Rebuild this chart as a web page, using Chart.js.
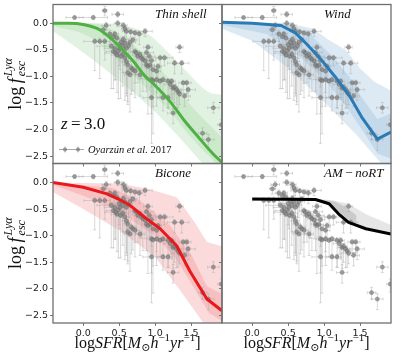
<!DOCTYPE html>
<html>
<head>
<meta charset="utf-8">
<script src="https://cdn.jsdelivr.net/npm/chart.js@4.4.1/dist/chart.umd.min.js"></script>
<style>
html, body { margin: 0; padding: 0; background: #fff; }
#wrap { position: relative; width: 407px; height: 360px; }
#wrap canvas { position: absolute; left: 0; top: 0; }
</style>
</head>
<body>
<div id="wrap">
  <canvas id="c0" width="407" height="360"></canvas>
  <canvas id="c1" width="407" height="360"></canvas>
  <canvas id="c2" width="407" height="360"></canvas>
  <canvas id="c3" width="407" height="360"></canvas>
</div>
<script>
// axis ticks
const xTicks = [0.0, 0.5, 1.0, 1.5];
const yTicks = [-2.5, -2.0, -1.5, -1.0, -0.5, 0.0];

// Oyarzun et al. 2017 observations (same in every panel)
const obsX = [-0.12, 0.14, 0.30, 0.48, 0.48, 0.32, 0.28, 0.16, 0.23, 0.30,
  0.56, 0.58, 0.60, 0.66, 0.72, 0.78, 0.86, 0.37, 0.42, 0.44,
  0.47, 0.39, 0.42, 0.45, 0.49, 0.51, 0.55, 0.58, 0.60, 0.63,
  0.65, 0.69, 0.72, 0.74, 0.76, 0.79, 0.81, 0.83, 0.86, 0.88,
  0.90, 0.93, 0.97, 1.02, 1.04, 1.07, 1.13, 1.27, 1.37, 1.34,
  0.58, 0.60, 0.62, 0.67, 0.69, 0.72, 0.65, 0.62, 0.79, 0.95,
  0.97, 1.02, 1.07, 1.11, 1.18, 1.21, 1.23, 1.25, 1.27, 1.30,
  1.32, 1.34, 1.39, 1.44, 1.46, 1.41, 0.95, 1.11, 1.18, 1.25,
  1.81, 1.92, 1.66, 1.74, 0.44, 0.47, 0.52, 0.55, 0.50, 0.53,
  0.56, 0.88, 0.92, 0.95, 0.90];
const obsY = [0.11, 0.11, 0.24, 0.17, 0.00, -0.04, -0.12, -0.34, -0.34, -0.34,
  -0.04, -0.10, -0.15, -0.16, -0.18, -0.20, -0.15, -0.20, -0.25, -0.20,
  -0.28, -0.43, -0.53, -0.56, -0.52, -0.47, -0.43, -0.37, -0.47, -0.42,
  -0.36, -0.31, -0.53, -0.56, -0.62, -0.59, -0.65, -0.68, -0.71, -0.78,
  -0.81, -0.79, -0.87, -0.90, -0.81, -0.65, -0.65, -0.75, -0.75, -0.45,
  -0.65, -0.72, -0.78, -0.84, -0.87, -0.90, -0.97, -0.93, -0.97, -1.06,
  -1.08, -1.06, -1.09, -1.06, -1.09, -1.15, -1.09, -1.22, -1.20, -1.25,
  -1.29, -1.33, -1.12, -1.12, -1.25, -1.37, -1.40, -1.40, -1.40, -1.69,
  -1.59, -1.91, -2.07, -2.19, -0.47, -0.60, -0.62, -0.58, -0.40, -0.35,
  -0.30, -0.55, -0.62, -0.70, -0.45];
const obsXerr = [0.12, 0.20, 0.03, 0.08, 0.05, 0.06, 0.04, 0.15, 0.06, 0.08,
  0.05, 0.05, 0.06, 0.05, 0.06, 0.05, 0.10, 0.05, 0.06, 0.05,
  0.08, 0.20, 0.10, 0.15, 0.06, 0.08, 0.06, 0.05, 0.06, 0.05,
  0.08, 0.06, 0.06, 0.06, 0.05, 0.06, 0.06, 0.06, 0.05, 0.06,
  0.05, 0.06, 0.05, 0.06, 0.05, 0.10, 0.12, 0.10, 0.10, 0.05,
  0.05, 0.06, 0.05, 0.06, 0.05, 0.06, 0.08, 0.06, 0.06, 0.06,
  0.05, 0.06, 0.08, 0.06, 0.06, 0.08, 0.05, 0.06, 0.05, 0.06,
  0.05, 0.10, 0.06, 0.06, 0.10, 0.08, 0.12, 0.08, 0.06, 0.08,
  0.08, 0.05, 0.06, 0.08, 0.15, 0.08, 0.06, 0.08, 0.10, 0.06,
  0.06, 0.10, 0.08, 0.06, 0.06];
const obsYlo = [0.03, 0.04, 0.10, 0.05, 0.06, 0.08, 0.10, 0.55, 0.70, 0.35,
  0.10, 0.15, 0.20, 0.12, 0.15, 0.20, 0.10, 0.20, 0.25, 0.20,
  0.30, 0.80, 0.70, 0.50, 0.90, 0.40, 0.50, 0.40, 0.90, 0.45,
  0.30, 0.30, 0.60, 0.40, 0.50, 0.45, 0.40, 0.60, 0.35, 0.50,
  0.90, 0.60, 0.70, 0.40, 0.30, 0.20, 0.15, 0.20, 0.20, 0.10,
  0.80, 0.60, 0.70, 0.50, 0.40, 0.50, 0.70, 0.60, 0.40, 1.20,
  1.00, 0.50, 0.30, 0.30, 0.50, 0.20, 0.35, 0.40, 0.30, 0.35,
  0.30, 0.20, 0.20, 0.20, 0.20, 0.20, 0.30, 0.25, 0.20, 0.20,
  0.10, 0.15, 0.12, 0.20, 0.60, 0.70, 0.80, 0.60, 0.40, 0.30,
  0.30, 0.30, 0.40, 0.50, 0.25];
const obsYhi = [0.03, 0.04, 0.08, 0.05, 0.05, 0.06, 0.06, 0.05, 0.06, 0.06,
  0.05, 0.05, 0.06, 0.05, 0.05, 0.05, 0.05, 0.06, 0.05, 0.05,
  0.05, 0.06, 0.06, 0.06, 0.06, 0.05, 0.05, 0.05, 0.05, 0.05,
  0.05, 0.05, 0.05, 0.05, 0.05, 0.05, 0.05, 0.05, 0.05, 0.05,
  0.05, 0.05, 0.05, 0.05, 0.05, 0.05, 0.05, 0.05, 0.05, 0.05,
  0.05, 0.05, 0.05, 0.05, 0.05, 0.05, 0.05, 0.05, 0.05, 0.05,
  0.05, 0.05, 0.05, 0.05, 0.05, 0.05, 0.05, 0.05, 0.05, 0.05,
  0.05, 0.05, 0.05, 0.05, 0.05, 0.05, 0.05, 0.05, 0.05, 0.15,
  0.10, 0.10, 0.10, 0.10, 0.05, 0.05, 0.05, 0.05, 0.05, 0.05,
  0.05, 0.05, 0.05, 0.05, 0.05];

// model curves [logSFR, log fesc]
const shellLine = [[-0.42, 0.0], [-0.2, 0.0], [0.0, -0.02], [0.2, -0.1], [0.4, -0.3], [0.55, -0.5], [0.7, -0.72],
  [0.85, -0.98], [1.0, -1.17], [1.2, -1.46], [1.4, -1.82], [1.6, -2.14], [1.8, -2.45], [1.93, -2.62]];
const shellOuterHi = [[-0.42, 0.0], [0.2, 0.0], [0.6, -0.05], [0.9, -0.2], [1.15, -0.5], [1.4, -0.85], [1.65, -1.2], [1.75, -1.3], [1.93, -1.35]];
const shellOuterLo = [[-0.42, -0.15], [0.0, -0.55], [0.5, -1.08], [1.0, -1.67], [1.35, -2.17], [1.6, -2.55], [1.93, -3.0]];
const shellInnerHi = [[-0.42, 0.0], [0.0, 0.0], [0.3, -0.05], [0.6, -0.3], [0.9, -0.65], [1.2, -1.05], [1.5, -1.55], [1.93, -2.15]];
const shellInnerLo = [[-0.42, -0.05], [0.0, -0.2], [0.3, -0.45], [0.6, -0.85], [0.9, -1.25], [1.2, -1.65], [1.5, -2.15], [1.93, -2.75]];

const windLine = [[-0.42, 0.02], [0.0, 0.0], [0.4, -0.04], [0.6, -0.18], [0.75, -0.38], [0.95, -0.67], [1.15, -1.0],
  [1.35, -1.36], [1.52, -1.76], [1.74, -2.18], [1.93, -2.05]];
const windOuterHi = [[-0.42, 0.02], [0.5, 0.0], [0.85, -0.1], [1.05, -0.3], [1.3, -0.5], [1.5, -0.85], [1.7, -1.1], [1.93, -1.27]];
const windOuterLo = [[-0.42, -0.1], [0.0, -0.33], [0.5, -0.84], [1.0, -1.48], [1.45, -2.1], [1.8, -2.65], [1.93, -2.8]];
const windInnerHi = [[-0.42, 0.02], [0.4, 0.0], [0.8, -0.2], [1.1, -0.6], [1.35, -1.0], [1.5, -1.35], [1.74, -1.8], [1.93, -1.7]];
const windInnerLo = [[-0.42, -0.03], [0.2, -0.2], [0.6, -0.55], [1.0, -1.05], [1.3, -1.55], [1.55, -2.05], [1.74, -2.45], [1.93, -2.55]];

const biconeLine = [[-0.42, 0.0], [0.0, -0.09], [0.32, -0.21], [0.5, -0.32], [0.65, -0.43], [0.85, -0.65], [1.07, -0.87],
  [1.3, -1.19], [1.48, -1.66], [1.72, -2.19], [1.93, -2.41]];
const biconeOuterHi = [[-0.42, 0.0], [0.5, -0.02], [0.9, -0.12], [1.3, -0.28], [1.55, -0.75], [1.72, -1.12], [1.93, -1.2]];
const biconeOuterLo = [[-0.42, -0.18], [0.0, -0.5], [0.5, -0.9], [1.0, -1.4], [1.35, -2.03], [1.65, -2.6], [1.93, -3.0]];
const biconeInnerHi = [[-0.42, 0.0], [0.4, -0.1], [0.8, -0.35], [1.2, -0.8], [1.5, -1.35], [1.72, -1.95], [1.93, -2.1]];
const biconeInnerLo = [[-0.42, -0.05], [0.0, -0.25], [0.5, -0.55], [1.0, -1.0], [1.3, -1.45], [1.55, -2.0], [1.75, -2.45], [1.93, -2.6]];

const amLine = [[0.0, -0.31], [0.88, -0.32], [1.07, -0.4], [1.2, -0.59], [1.34, -0.75], [1.58, -0.87], [1.93, -0.97]];
const amOuterHi = [[0.88, -0.31], [1.1, -0.33], [1.34, -0.4], [1.58, -0.6], [1.93, -0.8]];
const amOuterLo = [[0.88, -0.33], [1.1, -0.45], [1.25, -0.64], [1.45, -0.8], [1.93, -0.98]];
const amInnerHi = [[0.95, -0.32], [1.15, -0.36], [1.3, -0.46], [1.45, -0.62]];
const amInnerLo = [[0.95, -0.34], [1.15, -0.47], [1.3, -0.66], [1.45, -0.78]];

const X_MIN = -0.42, X_MAX = 1.93, Y_MIN = -2.64, Y_MAX = 0.355;
const colEdges = [53, 222, 391];
const rowEdges = [4, 163.5, 323];
const SERIF = '"Liberation Serif", "DejaVu Serif", serif';
const SANS = '"DejaVu Sans", sans-serif';

const panels = [
  { id: 'c0', col: 0, row: 0, label: [['Thin shell', 'i']], color: '#4fb044', outer: 'rgba(77,175,74,0.16)', inner: 'rgba(77,175,74,0.14)',
    line: shellLine, oHi: shellOuterHi, oLo: shellOuterLo, iHi: shellInnerHi, iLo: shellInnerLo, smooth: true, extra: true },
  { id: 'c1', col: 1, row: 0, label: [['Wind', 'i']], color: '#2a7ab6', outer: 'rgba(43,123,185,0.16)', inner: 'rgba(43,123,185,0.14)',
    line: windLine, oHi: windOuterHi, oLo: windOuterLo, iHi: windInnerHi, iLo: windInnerLo },
  { id: 'c2', col: 0, row: 1, label: [['Bicone', 'i']], color: '#e8181c', outer: 'rgba(232,26,28,0.16)', inner: 'rgba(232,26,28,0.14)',
    line: biconeLine, oHi: biconeOuterHi, oLo: biconeOuterLo, iHi: biconeInnerHi, iLo: biconeInnerLo },
  { id: 'c3', col: 1, row: 1, label: [['AM', 'i'], ['\u2009\u2212\u2009', 'u'], ['noRT', 'i']], color: '#000000', outer: 'rgba(130,130,130,0.2)', inner: 'rgba(100,100,100,0.22)',
    line: amLine, oHi: amOuterHi, oLo: amOuterLo, iHi: amInnerHi, iLo: amInnerLo }
];

const pts = a => a.map(p => ({ x: p[0], y: p[1] }));

// draw a run of text parts: [text, font, dy]
function drawRuns(ctx, runs, x, y, align) {
  let w = 0;
  runs.forEach(r => { ctx.font = r[1]; w += ctx.measureText(r[0]).width; });
  let cx = align === 'center' ? x - w / 2 : x;
  runs.forEach(r => {
    ctx.font = r[1];
    ctx.fillText(r[0], cx, y + (r[2] || 0));
    cx += ctx.measureText(r[0]).width;
  });
}

function drawYTitle(ctx, cx, cy) {
  const big = '18px ' + SERIF, bigIt = 'italic 18px ' + SERIF, small = 'italic 12px ' + SERIF;
  ctx.save();
  ctx.translate(cx, cy);
  ctx.rotate(-Math.PI / 2);
  ctx.font = big; const w1 = ctx.measureText('log').width;
  ctx.font = bigIt; const w2 = ctx.measureText('\u2009f').width;
  ctx.font = small; const w3 = Math.max(ctx.measureText('esc').width, ctx.measureText('Ly\u03b1').width);
  let x = -(w1 + w2 + w3 + 2) / 2;
  ctx.font = big; ctx.fillText('log', x, 0); x += w1;
  ctx.font = bigIt; ctx.fillText('\u2009f', x, 0); x += w2 + 2;
  ctx.font = small; ctx.fillText('esc', x, 4); ctx.fillText('Ly\u03b1', x, -9);
  ctx.restore();
}

const errorBars = {
  id: 'errorBars',
  beforeDatasetDraw(chart, args) {
    if (args.index !== 1) return;
    const { ctx, chartArea: a, scales: { x, y } } = chart;
    ctx.save();
    ctx.beginPath();
    ctx.rect(a.left, a.top, a.right - a.left, a.bottom - a.top);
    ctx.clip();
    ctx.strokeStyle = 'rgba(170,170,170,0.45)';
    ctx.lineWidth = 1;
    ctx.beginPath();
    obsX.forEach((v, i) => {
      const px = x.getPixelForValue(v), py = y.getPixelForValue(obsY[i]);
      const x0 = x.getPixelForValue(v - obsXerr[i]), x1 = x.getPixelForValue(v + obsXerr[i]);
      const y0 = y.getPixelForValue(obsY[i] - obsYlo[i]), y1 = y.getPixelForValue(obsY[i] + obsYhi[i]);
      ctx.moveTo(x0, py); ctx.lineTo(x1, py);
      ctx.moveTo(px, y0); ctx.lineTo(px, y1);
      ctx.moveTo(x0, py - 1.5); ctx.lineTo(x0, py + 1.5);
      ctx.moveTo(x1, py - 1.5); ctx.lineTo(x1, py + 1.5);
      ctx.moveTo(px - 1.5, y0); ctx.lineTo(px + 1.5, y0);
      ctx.moveTo(px - 1.5, y1); ctx.lineTo(px + 1.5, y1);
    });
    ctx.stroke();
    ctx.restore();
  }
};

function makeDeco(p) {
  return {
    id: 'deco',
    afterDraw(chart) {
      const { ctx, chartArea: a } = chart;
      ctx.save();
      // frame
      ctx.strokeStyle = '#6e6e6e';
      ctx.lineWidth = 1.3;
      ctx.strokeRect(a.left, a.top, a.right - a.left, a.bottom - a.top);
      ctx.fillStyle = '#111';
      ctx.textBaseline = 'alphabetic';
      ctx.textAlign = 'left';
      // panel label
      drawRuns(ctx, p.label.map(r => [r[0], (r[1] === 'i' ? 'italic ' : '') + '13px ' + SERIF]), a.left + 102, a.top + 13, 'left');
      if (p.col === 0) drawYTitle(ctx, 21, (a.top + a.bottom) / 2);
      if (p.row === 1) {
        const up = '16px ' + SERIF, it = 'italic 16px ' + SERIF, sm = '11px ' + SERIF;
        drawRuns(ctx, [['log', up], ['SFR', it], ['[', up], ['M', it], ['\u2299', sm, 3], ['h', it], ['\u22121', sm, -7],
          ['yr', it], ['\u22121', sm, -7], [']', up]], (a.left + a.right) / 2, 348, 'center');
      }
      if (p.extra) {
        drawRuns(ctx, [['z', 'italic 17px ' + SERIF], ['\u2009=\u20093.0', '17px ' + SERIF]], a.left + 8, 129, 'left');
        // legend entry
        const ly = 149.5;
        ctx.strokeStyle = 'rgba(150,150,150,0.8)';
        ctx.lineWidth = 1;
        ctx.beginPath();
        ctx.moveTo(a.left + 6, ly); ctx.lineTo(a.left + 31, ly);
        [a.left + 12, a.left + 25].forEach(mx => { ctx.moveTo(mx, ly - 3); ctx.lineTo(mx, ly + 3); });
        ctx.stroke();
        ctx.fillStyle = 'rgba(125,125,125,0.75)';
        [a.left + 12, a.left + 25].forEach(mx => { ctx.beginPath(); ctx.arc(mx, ly, 2.1, 0, Math.PI * 2); ctx.fill(); });
        ctx.fillStyle = '#111';
        drawRuns(ctx, [['Oyarz\u00fan et al.', 'italic 10.5px ' + SERIF], [' 2017', '10.5px ' + SERIF]], a.left + 35, 153, 'left');
      }
      ctx.restore();
    }
  };
}

function band(hi, lo, color, smooth) {
  return [
    { type: 'line', data: pts(hi), borderWidth: 0, pointRadius: 0, backgroundColor: color, fill: '+1', tension: smooth ? 0.4 : 0, cubicInterpolationMode: smooth ? 'monotone' : 'default' },
    { type: 'line', data: pts(lo), borderWidth: 0, pointRadius: 0, fill: false, tension: smooth ? 0.4 : 0, cubicInterpolationMode: smooth ? 'monotone' : 'default' }
  ];
}

panels.forEach(p => {
  const inner = band(p.iHi, p.iLo, p.inner, p.smooth);
  const outer = band(p.oHi, p.oLo, p.outer, p.smooth);
  new Chart(document.getElementById(p.id), {
    type: 'line',
    data: {
      datasets: [
        { type: 'line', data: pts(p.line), borderColor: p.color, borderWidth: 3, pointRadius: 0, fill: false,
          tension: p.smooth ? 0.4 : 0, cubicInterpolationMode: p.smooth ? 'monotone' : 'default', borderJoinStyle: 'round' },
        { type: 'scatter', data: obsX.map((v, i) => ({ x: v, y: obsY[i] })), pointRadius: 2.1,
          backgroundColor: 'rgba(125,125,125,0.7)', borderColor: 'rgba(90,90,90,0.6)', borderWidth: 0.5 },
        inner[0], inner[1], outer[0], outer[1]
      ]
    },
    options: {
      responsive: false,
      animation: false,
      events: [],
      layout: {
        padding: {
          left: p.col === 0 ? 0 : colEdges[1],
          right: 407 - colEdges[p.col + 1],
          top: rowEdges[p.row],
          bottom: p.row === 0 ? 360 - rowEdges[1] : 0
        }
      },
      plugins: { legend: { display: false }, tooltip: { enabled: false } },
      scales: {
        x: {
          type: 'linear', min: X_MIN, max: X_MAX,
          afterBuildTicks: s => { s.ticks = xTicks.map(v => ({ value: v })); },
          afterFit: s => { s.height = p.row === 0 ? 0 : 37; s.paddingLeft = 0; s.paddingRight = 0; s.paddingTop = 0; s.paddingBottom = 0; },
          grid: { drawOnChartArea: false, tickLength: 3, color: '#777' },
          border: { display: false },
          ticks: { display: p.row === 1, padding: 2, color: '#222', font: { family: SANS, size: 9.5 },
            callback: v => v.toFixed(1) }
        },
        y: {
          type: 'linear', min: Y_MIN, max: Y_MAX,
          afterBuildTicks: s => { s.ticks = yTicks.map(v => ({ value: v })); },
          afterFit: s => { s.width = p.col === 0 ? 53 : 0; s.paddingLeft = 0; s.paddingRight = 0; s.paddingTop = 0; s.paddingBottom = 0; },
          grid: { drawOnChartArea: false, tickLength: 3, color: '#777' },
          border: { display: false },
          ticks: { display: p.col === 0, padding: 2, color: '#222', font: { family: SANS, size: 9.5 },
            callback: v => (v < 0 ? '\u2212' : '') + Math.abs(v).toFixed(1) }
        }
      }
    },
    plugins: [errorBars, makeDeco(p)]
  });
});
</script>
</body>
</html>
